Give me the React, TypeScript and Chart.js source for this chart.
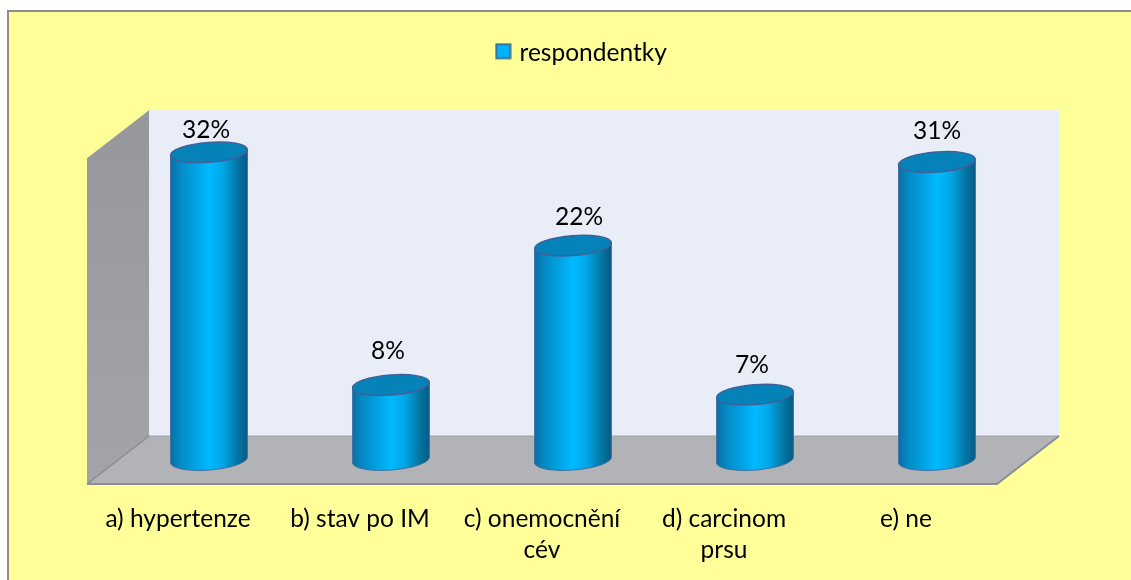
import React, { useEffect, useRef } from "react";
import { Chart, registerables } from "chart.js";

Chart.register(...registerables);

const categories: (string | string[])[] = [
  "a) hypertenze",
  "b) stav po IM",
  ["c) onemocnění", "cév"],
  ["d) carcinom", "prsu"],
  "e) ne",
];
const seriesName = "respondentky";
const seriesValues = [32, 7.8, 22.3, 6.8, 31];
const labelDx = [-3, -3, 6, -3, 0];
const labelGap = [22.5, 33.5, 29, 30, 30.7];

const FONT = "Lato";
const FONT_SIZE = 24.5;
const TILT = -0.077;
const RY = 10;

function legendMarker(): HTMLCanvasElement {
  const c = document.createElement("canvas");
  c.width = 17;
  c.height = 21;
  const g = c.getContext("2d")!;
  g.fillStyle = "#00b4fb";
  g.fillRect(1, 1, 15, 15);
  g.strokeStyle = "#3a6f9c";
  g.lineWidth = 2;
  g.strokeRect(1.5, 1.5, 14, 14);
  return c;
}

const backdrop = {
  id: "backdrop",
  afterLayout(chart: any) {
    chart.legend.left += 10;
    chart.legend.right += 10;
  },
  beforeDraw(chart: any) {
    const { ctx, width, height, chartArea } = chart;
    ctx.save();
    ctx.fillStyle = "#ffffff";
    ctx.fillRect(0, 0, width, height);
    ctx.fillStyle = "#ffff99";
    ctx.fillRect(7, 10, width, height);
    ctx.fillStyle = "#8e8e8e";
    ctx.fillRect(7, 10, width, 2);
    ctx.fillRect(7, 10, 2, height);

    const left = chartArea.left;
    const right = chartArea.right;
    const base = chartArea.bottom;
    const dx = 31;
    const dy = 24;
    const top = chart.scales.y.getPixelForValue(33.9);

    // back wall
    ctx.fillStyle = "#e9edf7";
    ctx.fillRect(left + dx, top - dy, right - left, base - top);

    // side wall
    const side = ctx.createLinearGradient(0, top - dy, 0, base + dy);
    side.addColorStop(0, "#95979b");
    side.addColorStop(1, "#a2a4a7");
    ctx.fillStyle = side;
    ctx.beginPath();
    ctx.moveTo(left - dx, top + dy);
    ctx.lineTo(left + dx, top - dy);
    ctx.lineTo(left + dx, base - dy);
    ctx.lineTo(left - dx, base + dy);
    ctx.closePath();
    ctx.fill();

    // floor
    ctx.fillStyle = "#b1b3b6";
    ctx.beginPath();
    ctx.moveTo(left - dx, base + dy);
    ctx.lineTo(right - dx, base + dy);
    ctx.lineTo(right + dx, base - dy);
    ctx.lineTo(left + dx, base - dy);
    ctx.closePath();
    ctx.fill();
    ctx.strokeStyle = "#a0a2a6";
    ctx.lineWidth = 1;
    ctx.stroke();

    ctx.strokeStyle = "#8b8d91";
    ctx.lineWidth = 2;
    ctx.beginPath();
    ctx.moveTo(left - dx, base + dy);
    ctx.lineTo(right - dx, base + dy);
    ctx.lineTo(right + dx, base - dy);
    ctx.stroke();
    ctx.lineWidth = 1.5;
    ctx.beginPath();
    ctx.moveTo(left - dx, base + dy);
    ctx.lineTo(left + dx, base - dy);
    ctx.stroke();
    ctx.restore();
  },
};

const cylinders = {
  id: "cylinders",
  beforeDatasetDraw(chart: any, args: any) {
    const { ctx } = chart;
    const bars = chart.getDatasetMeta(args.index).data;
    ctx.save();
    bars.forEach((bar: any) => {
      const cx = bar.x;
      const rx = bar.width / 2;
      const g = ctx.createLinearGradient(cx - rx, 0, cx + rx, 0);
      g.addColorStop(0, "#0a6ea3");
      g.addColorStop(0.12, "#0489c4");
      g.addColorStop(0.3, "#019fe0");
      g.addColorStop(0.5, "#00baff");
      g.addColorStop(0.68, "#01a6e6");
      g.addColorStop(0.88, "#04739f");
      g.addColorStop(1, "#065a85");
      const sx = rx * Math.cos(TILT);
      const sy = rx * Math.sin(TILT);
      ctx.beginPath();
      ctx.moveTo(cx + sx, bar.y + sy);
      ctx.ellipse(cx, bar.base, rx, RY, TILT, 0, Math.PI);
      ctx.lineTo(cx - sx, bar.y - sy);
      ctx.closePath();
      ctx.fillStyle = g;
      ctx.fill();
      ctx.strokeStyle = "#3f6d9e";
      ctx.lineWidth = 1;
      ctx.stroke();
      ctx.beginPath();
      ctx.ellipse(cx, bar.y, rx, RY, TILT, 0, Math.PI * 2);
      ctx.fillStyle = "#0583b9";
      ctx.fill();
      ctx.strokeStyle = "#41609a";
      ctx.lineWidth = 1.5;
      ctx.stroke();
    });
    ctx.restore();
    return false;
  },
  afterDatasetsDraw(chart: any) {
    const { ctx } = chart;
    const bars = chart.getDatasetMeta(0).data;
    ctx.save();
    ctx.fillStyle = "#000000";
    ctx.font = `${FONT_SIZE}px ${FONT}`;
    ctx.textAlign = "center";
    ctx.textBaseline = "middle";
    bars.forEach((bar: any, i: number) => {
      ctx.fillText(
        `${Math.round(seriesValues[i])}%`,
        bar.x + labelDx[i],
        bar.y - labelGap[i]
      );
    });
    ctx.restore();
  },
};

export default function App() {
  const ref = useRef<HTMLCanvasElement>(null);
  useEffect(() => {
    const chart = new Chart(ref.current!, {
      type: "bar",
      data: {
        labels: categories as any,
        datasets: [
          {
            label: seriesName,
            data: seriesValues,
            backgroundColor: "#00b4fb",
            borderColor: "#3a6f9c",
            categoryPercentage: 1,
            barPercentage: 0.423,
          },
        ],
      },
      options: {
        responsive: false,
        animation: false,
        events: [],
        layout: { padding: { left: 118, right: 103, top: 27, bottom: 0 } },
        plugins: {
          tooltip: { enabled: false },
          legend: {
            position: "top",
            labels: {
              usePointStyle: true,
              pointStyle: legendMarker() as any,
              pointStyleWidth: 8,
              padding: 14,
              color: "#000000",
              font: { family: FONT, size: FONT_SIZE },
            },
          },
        },
        scales: {
          x: {
            grid: { display: false, drawTicks: false },
            border: { display: false },
            afterFit(s: any) {
              s.height = 120;
            },
            ticks: {
              maxRotation: 0,
              autoSkip: false,
              labelOffset: -31,
              padding: 43,
              color: "#000000",
              font: { family: FONT, size: FONT_SIZE, lineHeight: 1.28 },
            },
          },
          y: {
            display: false,
            min: 0,
            max: 40,
          },
        },
      },
      plugins: [backdrop, cylinders],
    } as any);
    return () => chart.destroy();
  }, []);
  return (
    <div style={{ position: "absolute", left: 0, top: 0, width: 1131, height: 580, overflow: "hidden" }}>
      <canvas ref={ref} width={1131} height={580} style={{ display: "block" }} />
    </div>
  );
}
